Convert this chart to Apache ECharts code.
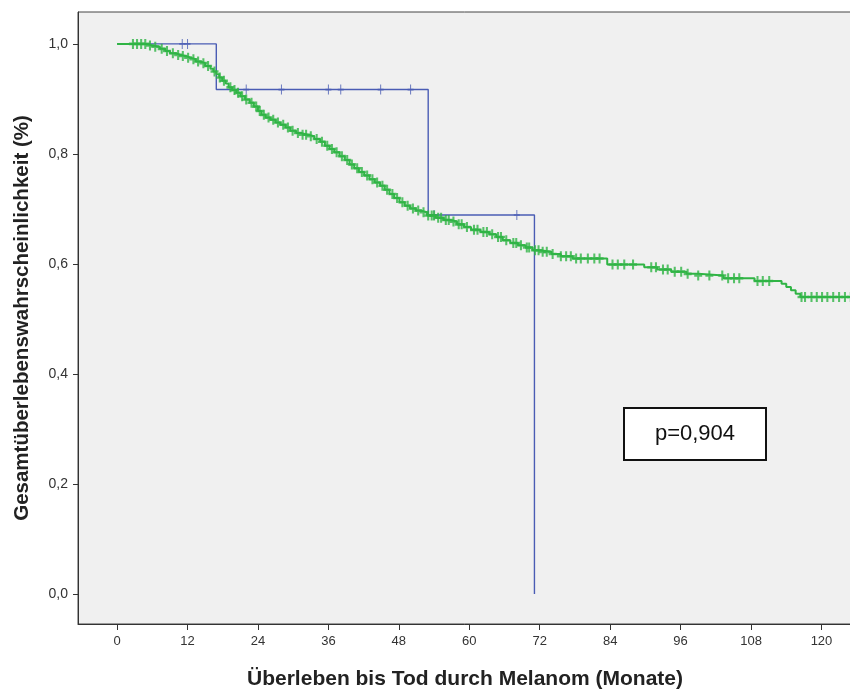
<!DOCTYPE html>
<html>
<head>
<meta charset="utf-8">
<script src="https://cdn.jsdelivr.net/npm/echarts@6/dist/echarts.min.js"></script>
<style>html,body{margin:0;padding:0;background:#fff;}#c{width:850px;height:690px;}</style>
</head>
<body>
<div id="c"></div>
<script>
// ---- data ----
const xTickValues = [0, 12, 24, 36, 48, 60, 72, 84, 96, 108, 120];
const yTickValues = [0, 0.2, 0.4, 0.6, 0.8, 1.0];

// group 1 (blue): step times and survival after each step
const blueTimes = [0, 16.9, 53.0, 71.1];
const blueSurv  = [1.0, 0.917, 0.689, 0.0];
const blueCensor = [11.1, 12.0, 22.0, 28.0, 36.0, 38.1, 44.9, 50.0, 54.0, 68.1];

// group 2 (green)
const greenTimes = [0, 5.0, 6.0, 7.3, 8.2, 9.0, 10.0, 10.8, 11.7, 12.5, 13.4, 14.2, 15.0, 15.9, 16.4, 16.9, 17.4, 17.9, 18.5, 19.0,
  19.6, 20.3, 21.0, 21.8, 22.6, 23.3, 24.0, 24.6, 25.3, 26.1, 27.0, 27.8, 28.7, 29.5, 30.5, 31.3, 32.5, 33.6, 34.6, 35.4,
  36.2, 37.0, 37.9, 38.8, 39.6, 40.4, 41.2, 42.1, 43.0, 43.9, 44.8, 45.6, 46.4, 47.2, 48.1, 49.0, 49.9, 50.9, 51.8, 52.8,
  54.3, 55.6, 56.8, 57.9, 59.1, 60.3, 61.9, 63.4, 64.6, 65.7, 67.0, 68.3, 69.6, 70.8, 72.0, 74.0, 75.6, 77.6, 83.5, 89.8,
  92.0, 94.4, 97.0, 99.0, 103.3, 108.6, 113.2, 114.0, 114.8, 115.6, 116.4, 126.0];
const greenSurv = [1.0, 0.997, 0.995, 0.991, 0.987, 0.983, 0.980, 0.978, 0.975, 0.972, 0.968, 0.965, 0.960, 0.955, 0.950, 0.945, 0.939, 0.933, 0.928, 0.921,
  0.916, 0.911, 0.905, 0.899, 0.893, 0.886, 0.878, 0.871, 0.866, 0.862, 0.857, 0.853, 0.848, 0.842, 0.838, 0.835, 0.832, 0.827, 0.822, 0.815,
  0.809, 0.803, 0.796, 0.789, 0.781, 0.774, 0.767, 0.761, 0.754, 0.748, 0.742, 0.735, 0.727, 0.720, 0.712, 0.706, 0.701, 0.697, 0.694, 0.688,
  0.684, 0.680, 0.677, 0.672, 0.667, 0.662, 0.658, 0.654, 0.649, 0.643, 0.638, 0.634, 0.630, 0.625, 0.622, 0.618, 0.614, 0.610, 0.599, 0.594,
  0.590, 0.586, 0.582, 0.579, 0.574, 0.569, 0.564, 0.558, 0.552, 0.546, 0.540, 0.540];
const greenCensor = [2.7, 3.4, 4.1, 4.8, 5.6, 6.5, 7.6, 8.5, 9.5, 10.4, 11.2, 12.1, 13.0, 13.8, 14.7, 15.5, 16.6, 17.5, 18.2, 19.3,
  20.0, 20.6, 21.3, 22.0, 22.9, 23.7, 24.3, 25.0, 25.8, 26.6, 27.4, 28.3, 29.1, 29.9, 30.8, 31.6, 32.2, 33.0, 34.0, 34.9,
  35.8, 36.6, 37.4, 38.3, 39.2, 40.0, 40.9, 41.7, 42.6, 43.5, 44.3, 45.2, 46.0, 46.9, 47.7, 48.6, 49.5, 50.4, 51.3, 52.2,
  53.0, 53.6, 54.0, 54.7, 55.2, 56.0, 56.5, 57.3, 58.2, 58.7, 59.6, 60.8, 61.4, 62.4, 63.0, 63.9, 64.9, 65.4, 66.3, 67.5,
  68.0, 68.8, 69.8, 70.2, 71.2, 71.8, 72.5, 73.2, 74.2, 75.6, 76.5, 77.3, 78.2, 79.0, 80.2, 81.3, 82.2, 84.4, 85.3, 86.4,
  87.9, 91.0, 91.8, 93.0, 93.8, 95.0, 96.1, 97.2, 99.0, 100.9, 103.1, 104.1, 105.1, 106.0, 109.1, 110.0, 111.1, 116.6, 117.2, 118.3,
  119.2, 120.1, 121.0, 122.0, 123.0, 124.0, 125.0];
const pText = 'p=0,904';

// ---- build ----
function survAt(times, vals, t) {
  let v = vals[0];
  for (let i = 0; i < times.length; i++) { if (times[i] <= t) v = vals[i]; else break; }
  return v;
}
const blueLine = blueTimes.map((t, i) => [t, blueSurv[i]]);
const greenLine = greenTimes.map((t, i) => [t, greenSurv[i]]);
const blueC = blueCensor.map(t => [t, survAt(blueTimes, blueSurv, t)]);
const greenC = greenCensor.map(t => [t, survAt(greenTimes, greenSurv, t)]);

const BLUE = '#4a5cb4';
const GREEN = '#30b445';
const plus = 'path://M5,0L5,10M0,5L10,5';
const FONT = '"Liberation Sans", Arial, sans-serif';

const chart = echarts.init(document.getElementById('c'), null, {renderer: 'canvas'});
chart.setOption({
  animation: false,
  backgroundColor: '#ffffff',
  grid: {left: 78, top: 12, right: -2, bottom: 66, show: true, backgroundColor: '#f0f0f0', borderColor: '#444', borderWidth: 1,
    outerBoundsMode: 'none', containLabel: false},
  xAxis: {
    type: 'value', min: -6.66, max: 125.2,
    splitLine: {show: false},
    axisLine: {show: true, onZero: false, lineStyle: {color: '#333', width: 1}},
    axisTick: {show: true, customValues: xTickValues, length: 6, lineStyle: {color: '#333'}},
    axisLabel: {customValues: xTickValues, color: '#333', fontSize: 13, fontFamily: '"Liberation Sans Narrow", ' + FONT, margin: 11},
    name: 'Überleben bis Tod durch Melanom (Monate)', nameLocation: 'middle', nameGap: 45,
    nameTextStyle: {fontSize: 21, fontWeight: 'bold', color: '#222', fontFamily: FONT}
  },
  yAxis: {
    type: 'value', min: -0.0545, max: 1.058,
    splitLine: {show: false},
    axisLine: {show: true, onZero: false, lineStyle: {color: '#333', width: 1}},
    axisTick: {show: true, customValues: yTickValues, length: 5, lineStyle: {color: '#333'}},
    axisLabel: {customValues: yTickValues, color: '#333', fontSize: 14, margin: 10, fontFamily: FONT,
      formatter: v => v.toFixed(1).replace('.', ',')},
    name: 'Gesamtüberlebenswahrscheinlichkeit (%)', nameLocation: 'middle', nameGap: 45,
    nameTextStyle: {fontSize: 20.5, fontWeight: 'bold', color: '#222', fontFamily: FONT}
  },
  series: [
    {type: 'line', step: 'end', data: blueLine, symbol: 'none', lineStyle: {color: BLUE, width: 1.4}, z: 2},
    {type: 'scatter', data: blueC, symbol: plus, symbolSize: [6, 10], itemStyle: {color: 'none', borderColor: BLUE, borderWidth: 1.3}, z: 3},
    {type: 'line', step: 'end', data: greenLine, symbol: 'none', lineStyle: {color: GREEN, width: 2}, z: 4},
    {type: 'scatter', data: greenC, symbol: plus, symbolSize: [8, 10], itemStyle: {color: 'none', borderColor: GREEN, borderWidth: 2.3}, z: 5}
  ],
  graphic: [
    {type: 'group', left: 623, top: 407, children: [
      {type: 'rect', shape: {x: 0, y: 0, width: 142, height: 52}, style: {fill: '#fff', stroke: '#111', lineWidth: 2}},
      {type: 'text', x: 71, y: 26, style: {text: pText, fill: '#111', font: '22px ' + FONT, align: 'center', verticalAlign: 'middle'}}
    ]}
  ]
});
</script>
</body>
</html>
